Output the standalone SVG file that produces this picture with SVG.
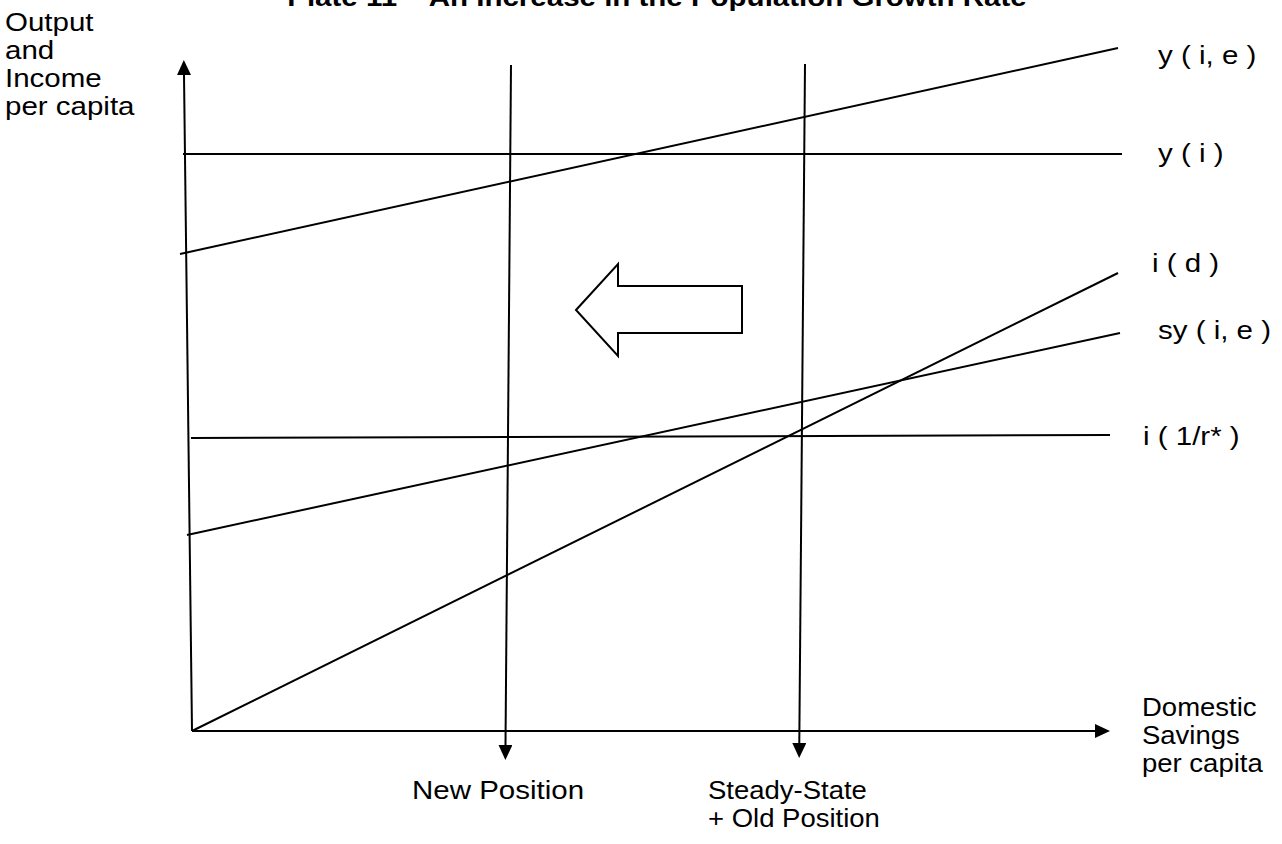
<svg xmlns="http://www.w3.org/2000/svg" width="1282" height="844" viewBox="0 0 1282 844">
<style>
.t{font-family:"Liberation Sans",Arial,sans-serif;font-size:25px;fill:#000}
.b{font-weight:bold}
.l{stroke:#000;stroke-width:2;fill:none}
</style>
<defs>
<marker id="ah" markerUnits="userSpaceOnUse" markerWidth="16" markerHeight="16" refX="0" refY="7" orient="auto">
<path d="M0,0 L15,7 L0,14 z" fill="#000"/>
</marker>
</defs>
<rect width="1282" height="844" fill="#fff"/>
<text class="t b" transform="translate(657,6) scale(1.18,1)" text-anchor="middle">Plate 11 – An Increase in the Population Growth Rate</text>
<g id="ylabel">
<text class="t" transform="translate(5,31) scale(1.18,1)">Output</text>
<text class="t" transform="translate(5,59) scale(1.18,1)">and</text>
<text class="t" transform="translate(5,87) scale(1.18,1)">Income</text>
<text class="t" transform="translate(5,115) scale(1.18,1)">per capita</text>
</g>
<g id="xlabel">
<text class="t" transform="translate(1142,716) scale(1.1,1)">Domestic</text>
<text class="t" transform="translate(1142,744) scale(1.1,1)">Savings</text>
<text class="t" transform="translate(1142,772) scale(1.1,1)">per capita</text>
</g>
<g id="curves">
<line class="l" x1="180" y1="254" x2="1118" y2="48"/>
<line class="l" x1="183" y1="154" x2="1122" y2="154"/>
<line class="l" x1="192" y1="731" x2="1118" y2="273"/>
<line class="l" x1="187" y1="535" x2="1120" y2="333"/>
<line class="l" x1="191" y1="438" x2="1110" y2="435"/>
</g>
<g id="labels">
<text class="t" transform="translate(1158,64) scale(1.18,1)">y ( i, e )</text>
<text class="t" transform="translate(1158,162) scale(1.18,1)">y ( i )</text>
<text class="t" transform="translate(1152,272) scale(1.18,1)">i ( d )</text>
<text class="t" transform="translate(1158,339) scale(1.18,1)">sy ( i, e )</text>
<text class="t" transform="translate(1143,445) scale(1.18,1)">i ( 1/r* )</text>
<text class="t" transform="translate(412,799) scale(1.18,1)">New Position</text>
<text class="t" transform="translate(708,799) scale(1.1,1)">Steady-State</text>
<text class="t" transform="translate(708,827) scale(1.1,1)">+ Old Position</text>
</g>
<g id="shift-arrow"><polygon class="l" points="576,310 618,264 618,286 742,286 742,333 618,333 618,356"/></g>
<g id="connectors">
<line class="l" x1="192" y1="731" x2="184" y2="75" marker-end="url(#ah)"/>
<line class="l" x1="192" y1="731" x2="1095" y2="731" marker-end="url(#ah)"/>
<line class="l" x1="511" y1="65" x2="505.5" y2="745" marker-end="url(#ah)"/>
<line class="l" x1="805" y1="64" x2="799.3" y2="743" marker-end="url(#ah)"/>
</g>
</svg>
